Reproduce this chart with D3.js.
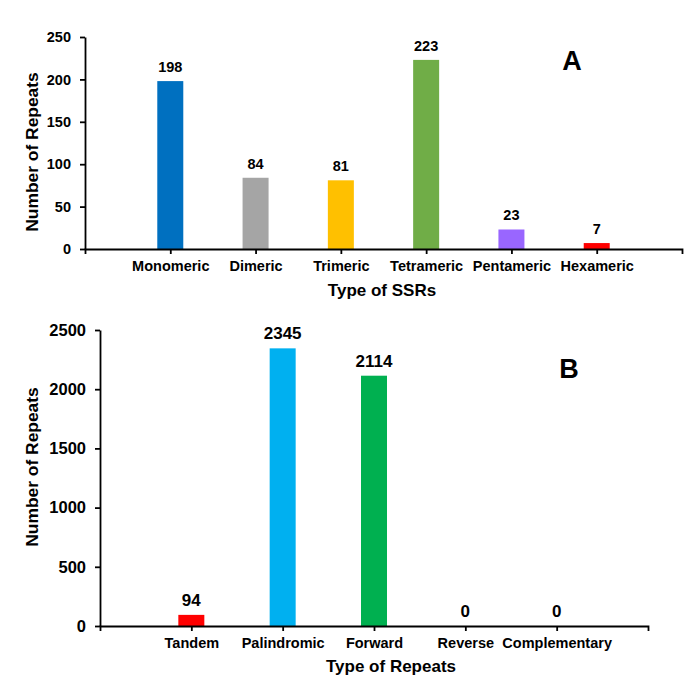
<!DOCTYPE html>
<html>
<head>
<meta charset="utf-8">
<script src="https://cdn.jsdelivr.net/npm/d3@7"></script>
<style>
  html, body { margin: 0; padding: 0; background: #fff; }
  svg { display: block; }
  text { font-family: "Liberation Sans", Arial, sans-serif; font-weight: bold; fill: #000; }
</style>
</head>
<body>
<svg id="chart" width="685" height="678"></svg>
<script>
// ---- Data: panel A ----
const ssrCategories = ["Monomeric", "Dimeric", "Trimeric", "Tetrameric", "Pentameric", "Hexameric"];
const ssrValues = [198, 84, 81, 223, 23, 7];
const ssrColors = ["#0070C0", "#A5A5A5", "#FFC000", "#70AD47", "#9966FF", "#FF0000"];
const ssrTicks = [0, 50, 100, 150, 200, 250];

// ---- Data: panel B ----
const repCategories = ["Tandem", "Palindromic", "Forward", "Reverse", "Complementary"];
const repValues = [94, 2345, 2114, 0, 0];
const repColors = ["#FF0000", "#00B0F0", "#00B050", "#7F7F7F", "#7F7F7F"];
const repTicks = [0, 500, 1000, 1500, 2000, 2500];

const svg = d3.select("#chart");

function panel(opts) {
  const g = svg.append("g");
  const x = d3.scalePoint().domain(opts.categories).range([opts.left, opts.right]).padding(1);
  const y = d3.scaleLinear().domain([0, opts.ticks[opts.ticks.length - 1]]).range([opts.bottom, opts.top]);

  // bars
  g.selectAll("rect.bar").data(opts.values).enter().append("rect")
    .attr("class", "bar")
    .attr("x", (d, i) => x(opts.categories[i]) - opts.barW / 2)
    .attr("width", opts.barW)
    .attr("y", d => y(d))
    .attr("height", d => y(0) - y(d))
    .attr("fill", (d, i) => opts.colors[i]);

  // value labels
  g.selectAll("text.val").data(opts.values).enter().append("text")
    .attr("class", "val")
    .attr("x", (d, i) => x(opts.categories[i]))
    .attr("y", d => y(d) - 9)
    .attr("text-anchor", "middle")
    .style("font-size", opts.valSize + "px")
    .text(d => d);

  // y axis
  const ya = g.append("g")
    .attr("transform", `translate(${opts.left},0)`)
    .call(d3.axisLeft(y).tickValues(opts.ticks).tickFormat(d3.format("d"))
      .tickSize(5).tickSizeOuter(0).tickPadding(9));
  ya.selectAll("path, line").attr("stroke", "#000").attr("stroke-width", 1.8);
  ya.selectAll("text").style("font-size", opts.yTickSize + "px")
    .style("font-family", '"Liberation Sans", Arial, sans-serif').style("font-weight", "bold").attr("fill", "#000");

  // x axis
  const xa = g.append("g")
    .attr("transform", `translate(0,${opts.bottom})`)
    .call(d3.axisBottom(x).tickSize(5).tickSizeOuter(5).tickPadding(7));
  xa.selectAll("path, line").attr("stroke", "#000").attr("stroke-width", 1.8);
  xa.selectAll("text").style("font-size", "14.5px")
    .style("font-family", '"Liberation Sans", Arial, sans-serif').style("font-weight", "bold").attr("fill", "#000");
  xa.select("path.domain").raise();

  // axis titles
  g.append("text")
    .attr("x", opts.xTitleX).attr("y", opts.xTitleY)
    .attr("text-anchor", "middle").style("font-size", "17px")
    .text(opts.xTitle);
  g.append("text")
    .attr("transform", `translate(38,${opts.yTitleY}) rotate(-90)`)
    .attr("text-anchor", "middle").style("font-size", "17.4px")
    .text("Number of Repeats");

  // panel letter
  g.append("text")
    .attr("x", opts.letterX).attr("y", opts.letterY)
    .attr("text-anchor", "middle").style("font-size", "27px")
    .text(opts.letter);
}

panel({
  categories: ssrCategories, values: ssrValues, colors: ssrColors, ticks: ssrTicks,
  left: 85, right: 682, top: 37, bottom: 249, barW: 26, valSize: 14.5, yTickSize: 14.5,
  xTitle: "Type of SSRs", xTitleX: 382, xTitleY: 296, yTitleY: 152,
  letter: "A", letterX: 572, letterY: 69.5
});

panel({
  categories: repCategories, values: repValues, colors: repColors, ticks: repTicks,
  left: 100, right: 648, top: 330, bottom: 626, barW: 26, valSize: 17, yTickSize: 16.5,
  xTitle: "Type of Repeats", xTitleX: 391, xTitleY: 671.5, yTitleY: 467,
  letter: "B", letterX: 569, letterY: 378
});
</script>
</body>
</html>
